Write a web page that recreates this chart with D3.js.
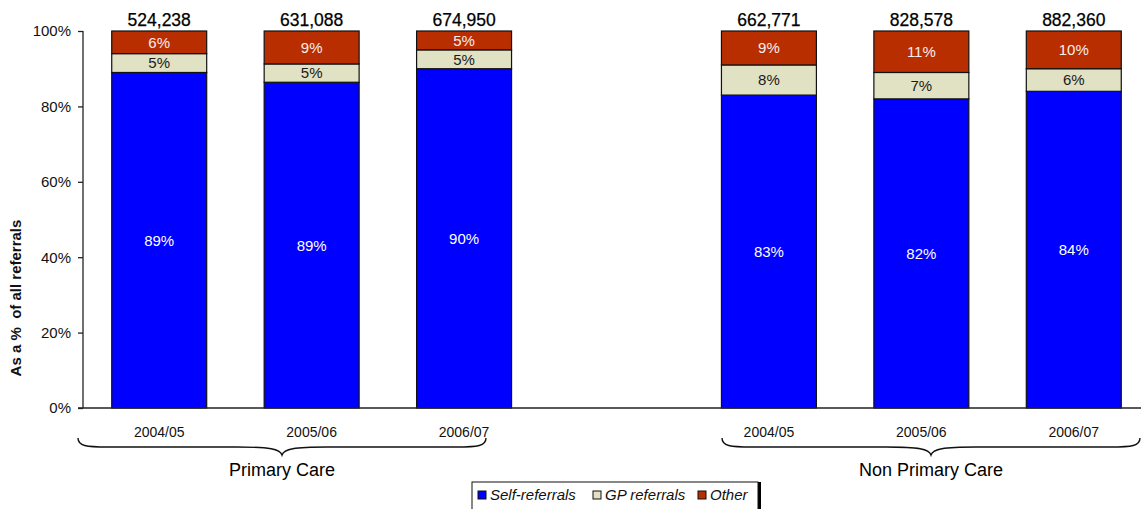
<!DOCTYPE html>
<html>
<head>
<meta charset="utf-8">
<script src="https://cdn.jsdelivr.net/npm/d3@7"></script>
<style>
  html, body { margin: 0; padding: 0; background: #fff; }
  svg { display: block; font-family: Arial, "Liberation Sans", Helvetica, sans-serif; }
</style>
</head>
<body>
<svg id="chart" width="1141" height="509"></svg>
<script>
// Referral sources by care setting and year
const groups = ["Primary Care", "Non Primary Care"];
const years = ["2004/05", "2005/06", "2006/07"];
const slots = ["P-2004/05", "P-2005/06", "P-2006/07", "gap", "N-2004/05", "N-2005/06", "N-2006/07"];
const series = ["Self-referrals", "GP referrals", "Other"];
const selfPct = [89, 89, 90, 83, 82, 84];
const gpPct = [5, 5, 5, 8, 7, 6];
const otherPct = [6, 9, 5, 9, 11, 10];
const totals = ["524,238", "631,088", "674,950", "662,771", "828,578", "882,360"];
const yTicks = [0, 20, 40, 60, 80, 100];

const colors = { "Self-referrals": "#0000ff", "GP referrals": "#e1e1c3", "Other": "#b82e00" };
const labelColors = { "Self-referrals": "#ffffff", "GP referrals": "#1a1a1a", "Other": "#f6eeee" };

const barSlots = slots.filter(s => s !== "gap");
const rows = barSlots.map((slot, i) => {
  const raw = { "Self-referrals": selfPct[i], "GP referrals": gpPct[i], "Other": otherPct[i] };
  const sum = selfPct[i] + gpPct[i] + otherPct[i];
  // bars are drawn as shares of 100%
  const row = { slot, total: totals[i], raw };
  series.forEach(k => row[k] = raw[k] / sum * 100);
  return row;
});

const svg = d3.select("#chart");
const x = d3.scaleBand().domain(slots).range([83, 1150]).paddingInner(0.377).paddingOuter(0.1885);
const y = d3.scaleLinear().domain([0, 100]).range([408, 31]);

const stack = d3.stack().keys(series);
const stacked = stack(rows);

// bars
const layer = svg.append("g").selectAll("g").data(stacked).join("g")
  .attr("fill", d => colors[d.key]);
layer.selectAll("rect").data(d => d.map(v => Object.assign(v, { key: d.key }))).join("rect")
  .attr("x", d => x(d.data.slot))
  .attr("width", x.bandwidth())
  .attr("y", d => y(d[1]))
  .attr("height", d => y(d[0]) - y(d[1]))
  .attr("stroke", "#111")
  .attr("stroke-width", 1.2);

// segment labels
layer.selectAll("text").data(d => d).join("text")
  .attr("x", d => x(d.data.slot) + x.bandwidth() / 2)
  .attr("y", d => (y(d[0]) + y(d[1])) / 2)
  .attr("dy", "0.36em")
  .attr("text-anchor", "middle")
  .attr("font-size", 15)
  .attr("fill", d => labelColors[d.key])
  .text(d => d.data.raw[d.key] + "%");

// totals above bars
svg.append("g").selectAll("text").data(rows).join("text")
  .attr("x", d => x(d.slot) + x.bandwidth() / 2)
  .attr("y", y(100) - 5)
  .attr("text-anchor", "middle")
  .attr("font-size", 17.5)
  .attr("fill", "#000")
  .attr("stroke", "#000")
  .attr("stroke-width", 0.25)
  .text(d => d.total);

// y axis
const yAxis = svg.append("g").attr("transform", "translate(83,0)")
  .call(d3.axisLeft(y).tickValues(yTicks).tickFormat(d => d + "%").tickSize(5).tickPadding(7));
yAxis.select(".domain").attr("stroke", "#222").attr("stroke-width", 1.3).attr("d", `M0,${y(100)}V${y(0)}`);
yAxis.selectAll(".tick line").attr("stroke", "#222").attr("stroke-width", 1.3);
yAxis.selectAll(".tick text").attr("font-size", 15).attr("fill", "#111")
  .attr("font-family", "Arial, 'Liberation Sans', sans-serif");

// baseline
svg.append("line").attr("x1", 78).attr("x2", 1141).attr("y1", y(0)).attr("y2", y(0))
  .attr("stroke", "#222").attr("stroke-width", 1.5);

// year labels
svg.append("g").selectAll("text").data(rows).join("text")
  .attr("x", d => x(d.slot) + x.bandwidth() / 2)
  .attr("y", 437)
  .attr("text-anchor", "middle")
  .attr("font-size", 14)
  .attr("fill", "#111")
  .text((d, i) => years[i % 3]);

// y title
svg.append("text")
  .attr("transform", "translate(21,298) rotate(-90)")
  .attr("text-anchor", "middle")
  .attr("font-size", 15)
  .attr("font-weight", "bold")
  .attr("fill", "#111")
  .attr("xml:space", "preserve")
  .style("white-space", "pre")
  .text("As a %  of all referrals");

// group braces
const braces = [
  { name: groups[0], x0: 78, x1: 486 },
  { name: groups[1], x0: 722, x1: 1140 }
];
function bracePath(x0, x1) {
  const top = 438, mid = 447, tip = 455, m = (x0 + x1) / 2;
  return `M${x0},${top} C${x0},${mid - 1} ${x0 + 8},${mid} ${x0 + 30},${mid}` +
    ` L${m - 45},${mid} C${m - 12},${mid} ${m - 2},${mid + 2} ${m},${tip}` +
    ` C${m + 2},${mid + 2} ${m + 12},${mid} ${m + 45},${mid}` +
    ` L${x1 - 30},${mid} C${x1 - 8},${mid} ${x1},${mid - 1} ${x1},${top}`;
}
const bg = svg.append("g").selectAll("g").data(braces).join("g");
bg.append("path").attr("d", d => bracePath(d.x0, d.x1))
  .attr("fill", "none").attr("stroke", "#111").attr("stroke-width", 1.4);
bg.append("text")
  .attr("x", d => (d.x0 + d.x1) / 2)
  .attr("y", 476)
  .attr("text-anchor", "middle")
  .attr("font-size", 18)
  .attr("fill", "#000")
  .text(d => d.name);

// legend
const lg = svg.append("g").attr("transform", "translate(472,482)");
lg.append("rect").attr("x", 3).attr("y", 0).attr("width", 286).attr("height", 40).attr("fill", "#000");
lg.append("rect").attr("x", 0).attr("y", 0).attr("width", 286).attr("height", 40)
  .attr("fill", "#fff").attr("stroke", "#111").attr("stroke-width", 1);
const itemX = [6, 121, 226];
const items = lg.selectAll("g.item").data(series).join("g").attr("class", "item")
  .attr("transform", (d, i) => `translate(${itemX[i]},0)`);
items.append("rect").attr("x", 0).attr("y", 9).attr("width", 8).attr("height", 8)
  .attr("fill", d => colors[d]).attr("stroke", "#111").attr("stroke-width", 1);
items.append("text").attr("x", 12).attr("y", 18)
  .attr("font-size", 15).attr("font-style", "italic").attr("fill", "#111")
  .text(d => d);
</script>
</body>
</html>
